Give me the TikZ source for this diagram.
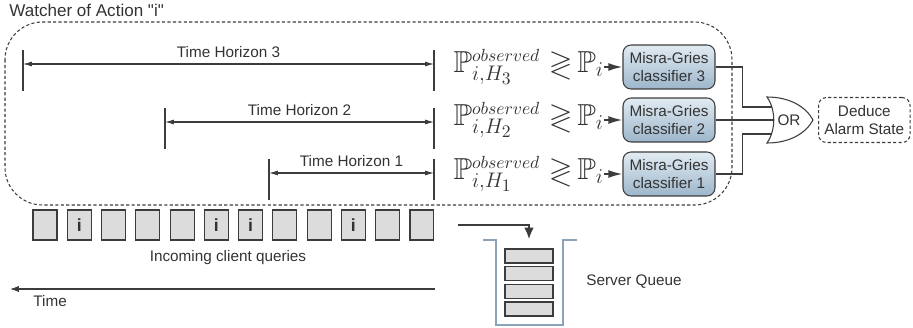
\documentclass[tikz,border=0pt]{standalone}
\usepackage{amssymb}
\usepackage[no-math]{fontspec}
\setmainfont{Liberation Sans}
\usetikzlibrary{arrows,arrows.meta}

\definecolor{wire}{HTML}{3C3C3C}
\definecolor{querygray}{HTML}{DCDCDC}
\definecolor{clslight}{HTML}{E2EBF2}
\definecolor{clsdark}{HTML}{9CB6CB}
\definecolor{queueblue}{HTML}{8AA3B8}

\tikzset{
	query/.style={draw=wire, fill=querygray, minimum width=0.48cm, minimum height=0.6cm, inner sep=0pt, font=\bfseries},
	classifier/.style={draw=wire, rounded corners=0.16cm, top color=clslight, bottom color=clsdark, minimum width=1.84cm, minimum height=0.88cm, align=center, inner sep=1pt},
	queueitem/.style={draw=wire, fill=querygray, minimum width=0.96cm, minimum height=0.28cm, inner sep=0pt},
	dotted box/.style={dash pattern=on 1.8pt off 1.3pt},
}

\begin{document}
\begin{tikzpicture}[x=0.02cm, y=-0.02cm, color=wire, text=black!80, line width=0.6pt, font=\fontsize{8.7}{10.4}\selectfont]
	\useasboundingbox (0,0) rectangle (913,328);

	\node[anchor=west, font=\fontsize{9.7}{11}\selectfont] (title) at (3,10) {Watcher of Action \textquotedbl i\textquotedbl};
	\draw[dotted box, rounded corners=0.75cm] (5,22) rectangle (732,205);

	\foreach \n/\xl/\yy in {3/23/64, 2/165/122, 1/269/173}{
		\draw (\xl,\yy-14) -- (\xl,\yy+27);
		\draw (434,\yy-14) -- (434,\yy+27);
		\coordinate (h\n l) at (\xl,\yy);
		\coordinate (h\n r) at (434,\yy);
		\draw[{Latex[length=5pt,width=2.8pt]}-{Latex[length=5pt,width=2.8pt]}] (h\n l) -- node[above] (lab\n) {Time Horizon \n} (h\n r);
	}

	\foreach \n/\yy in {3/67, 2/120, 1/174}{
		\node[anchor=west, inner sep=0pt, font=\fontsize{17.28}{20}\selectfont] (f\n) at (453,\yy) {$\mathbb{P}^{\scriptscriptstyle observed}_{i,H_\n}\;{\gtrless}\,\mathbb{P}_i$};
		\node[classifier] (c\n) at (669,\yy) {Misra-Gries\\classifier \n};
		\draw[-{Latex[length=8pt,width=4.5pt]}, line width=1pt] (f\n) -- (c\n);
	}

	% OR gate
	\draw[fill=white] (767,97) .. controls (776,110) and (776,130) .. (767,143) .. controls (790,143) and (806,133) .. (813,120) .. controls (806,107) and (790,97) .. (767,97) -- cycle;
	\node (or) at (789,120) {OR};
	\coordinate (or in1) at (772,107);
	\coordinate (or in2) at (773.5,120);
	\coordinate (or in3) at (771.5,134);
	\draw (c3.east) -- ++(27,0) |- (or in1);
	\draw (c2.east) -- (or in2);
	\draw (c1.east) -- ++(27,0) |- (or in3);
	\node[draw, dotted box, rounded corners=0.16cm, minimum width=1.74cm, minimum height=0.9cm, align=center, anchor=west] (alarm) at (818,120) {Deduce\\Alarm State};

	\foreach \t [count=\k from 0] in {{},i,{},{},{},i,i,{},{},i,{},{}}
		\node[query] (q\k) at (45+34.27*\k,225) {\t};
	\node (incoming) at (228,258) {Incoming client queries};

	\coordinate (tstart) at (435,289);
	\coordinate (tend) at (10,289);
	\draw[-{Latex[length=5pt,width=3.5pt]}] (tstart) -- (tend);
	\node[anchor=west] (time) at (27,301) {Time};

	\draw[queueblue, line width=1pt] (483,240) -- (496,240) -- (496,325) -- (563,325) -- (563,240) -- (577,240);
	\foreach \n/\yy in {1/256, 2/273.7, 3/291.3, 4/309}
		\node[queueitem] (s\n) at (529,\yy) {};
	\coordinate (qa) at (458,225);
	\coordinate (qb) at (529,239);
	\draw[-{Latex[length=6.5pt,width=5.5pt]}, line width=0.8pt] (qa) -| (qb);
	\node[anchor=west] (server) at (580,282) {Server Queue};
\end{tikzpicture}
\end{document}
